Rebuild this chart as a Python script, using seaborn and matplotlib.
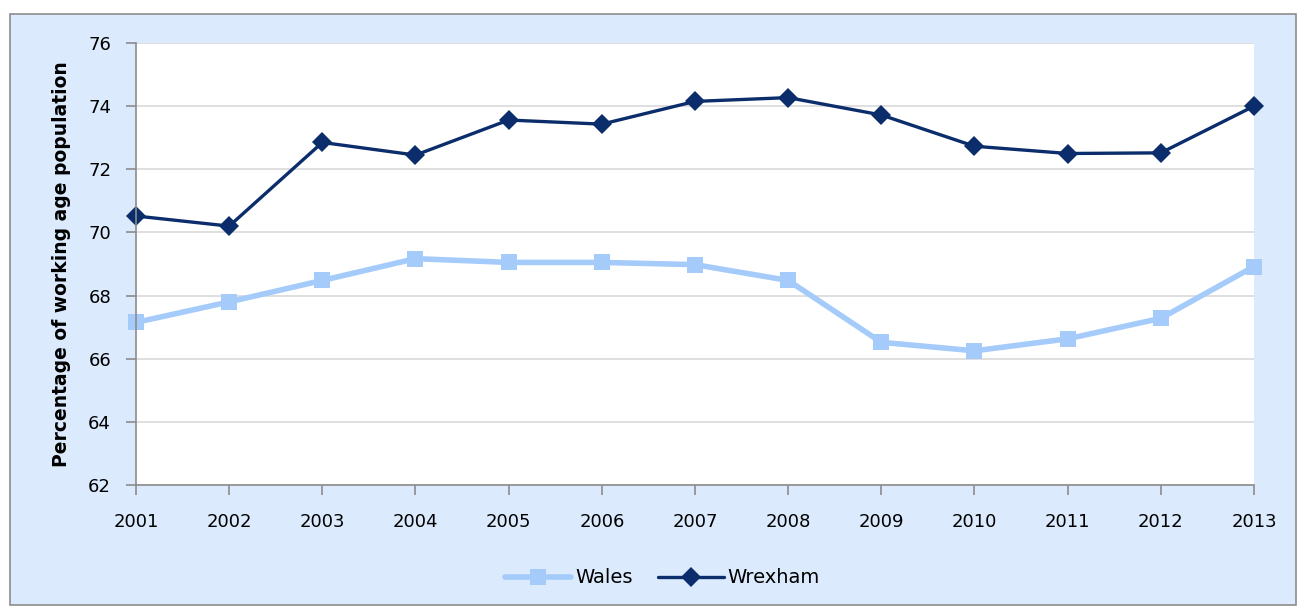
import matplotlib.pyplot as plt
import matplotlib.patches as mpatches
import pandas as pd
import seaborn as sns

years = list(range(2001, 2014))
wales = [67.15, 67.8, 68.48, 69.17, 69.05, 69.05, 68.98, 68.48, 66.52, 66.25, 66.63, 67.28, 68.92]
wrexham = [70.52, 70.2, 72.85, 72.45, 73.56, 73.43, 74.15, 74.27, 73.72, 72.73, 72.5, 72.52, 74.0]
yticks = [62, 64, 66, 68, 70, 72, 74, 76]

sns.set_style("white")
plt.rcParams["font.family"] = ["DejaVu Sans"]
plt.rcParams["text.color"] = "black"
plt.rcParams["xtick.labelcolor"] = "black"
plt.rcParams["ytick.labelcolor"] = "black"

df = pd.DataFrame({"Year": years * 2,
                   "Value": wales + wrexham,
                   "Area": ["Wales"] * len(years) + ["Wrexham"] * len(years)})

fig = plt.figure(figsize=(12.98, 6.07), dpi=100)
fig.patch.set_facecolor("white")
# chart area background with grey border
fig.patches.append(mpatches.Rectangle((10 / 1298, 2 / 607), 1286 / 1298, 591 / 607,
                                      transform=fig.transFigure, facecolor="#dbeafc",
                                      edgecolor="#8c8c8c", linewidth=1.2, zorder=-5))

ax = fig.add_axes([136 / 1298, 1 - 485 / 607, 1118 / 1298, 442 / 607])
ax.set_facecolor("white")

sns.lineplot(data=df[df["Area"] == "Wales"], x="Year", y="Value", ax=ax,
             color="#a4cbfa", linewidth=4, marker="s", markersize=12,
             markeredgewidth=0, label="Wales")
sns.lineplot(data=df[df["Area"] == "Wrexham"], x="Year", y="Value", ax=ax,
             color="#0b2d6b", linewidth=2.4, marker="D", markersize=10,
             markeredgewidth=0, label="Wrexham")

ax.set_xlim(2001, 2013)
ax.set_ylim(62, 76)
ax.set_xticks(years)
ax.set_yticks(yticks)
ax.tick_params(axis="both", labelsize=13, color="#8c8c8c", length=7, width=1.2,
               direction="out", left=True, bottom=True)
ax.tick_params(axis="y", pad=11)
ax.tick_params(axis="x", pad=13)
ax.yaxis.grid(True, color="#d9d9d9", linewidth=1.2)
ax.set_axisbelow(True)
for s in ["top", "right"]:
    ax.spines[s].set_visible(False)
for s in ["left", "bottom"]:
    ax.spines[s].set_color("#8c8c8c")
    ax.spines[s].set_linewidth(1.2)
ax.set_xlabel("")
ax.set_ylabel("Percentage of working age population", fontsize=13.5, fontweight="bold",
              color="black", labelpad=12)

for line in ax.lines:
    line.set_clip_on(False)

leg = ax.legend(loc="center", bbox_to_anchor=(0.471, -0.21), ncol=2, frameon=False,
                fontsize=14, handlelength=3.4, columnspacing=1.3, handletextpad=0.2)

fig.savefig("out.png", dpi=100)
